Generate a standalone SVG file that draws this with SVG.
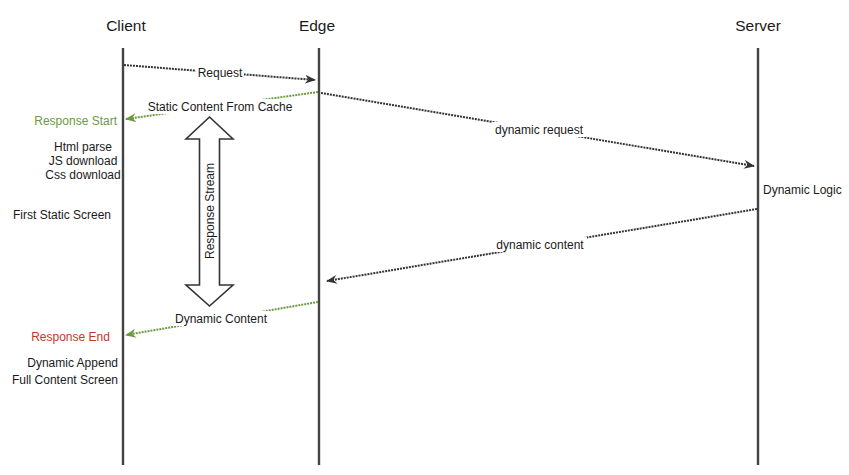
<svg xmlns="http://www.w3.org/2000/svg" width="849" height="475" viewBox="0 0 849 475">
<style>
text{font-family:"Liberation Sans",Arial,sans-serif;fill:#1a1a1a}
.t{font-size:15.5px}
.s{font-size:12px}
.g{fill:#6b9a3f}
.r{fill:#c0392b}
.life{stroke:#444;stroke-width:2.4;fill:none}
.msg{stroke:#333;stroke-width:2;stroke-dasharray:2 1;fill:none}
.gmsg{stroke:#6b9a3f;stroke-width:2;stroke-dasharray:2 1;fill:none}
.bg{fill:#fff}
</style>
<defs>
<marker id="ad" markerWidth="12" markerHeight="10" refX="10" refY="4.5" orient="auto" markerUnits="userSpaceOnUse">
<path d="M0,0 L11,4.5 L0,9 L3.5,4.5 Z" fill="#333"/>
</marker>
<marker id="ag" markerWidth="12" markerHeight="10" refX="10" refY="4.5" orient="auto" markerUnits="userSpaceOnUse">
<path d="M0,0 L11,4.5 L0,9 L3.5,4.5 Z" fill="#6b9a3f"/>
</marker>
</defs>
<rect width="849" height="475" fill="#fff"/>
<g id="client">
<text class="t" x="126" y="31" text-anchor="middle">Client</text>
<line class="life" x1="123" y1="48" x2="123" y2="465"/>
</g>
<g id="edge">
<text class="t" x="317" y="31" text-anchor="middle">Edge</text>
<line class="life" x1="319" y1="48" x2="319" y2="465"/>
</g>
<g id="server">
<text class="t" x="758" y="31" text-anchor="middle">Server</text>
<line class="life" x1="758" y1="48" x2="758" y2="465"/>
</g>
<g id="client-notes">
<text class="s g" x="117" y="125" text-anchor="end">Response Start</text>
<text class="s" x="83" y="151" text-anchor="middle">Html parse</text>
<text class="s" x="83" y="165" text-anchor="middle">JS download</text>
<text class="s" x="83" y="179" text-anchor="middle">Css download</text>
<text class="s" x="62" y="219" text-anchor="middle">First Static Screen</text>
<text class="s r" x="70.5" y="341" text-anchor="middle">Response End</text>
<text class="s" x="118" y="367" text-anchor="end">Dynamic Append</text>
<text class="s" x="118" y="384" text-anchor="end">Full Content Screen</text>
</g>
<g id="server-notes">
<text class="s" x="763" y="194">Dynamic Logic</text>
</g>
<g id="response-stream">
<polygon points="209.5,117 233,139 219.5,139 219.5,285 233,285 209.5,306 186,285 199.5,285 199.5,139 186,139" fill="#fff" stroke="#333" stroke-width="1.6" stroke-linejoin="miter"/>
<text class="s" transform="translate(210,211) rotate(-90)" text-anchor="middle" dominant-baseline="central">Response Stream</text>
</g>
<g id="connectors">
<line class="msg" x1="124" y1="65" x2="315" y2="80" marker-end="url(#ad)"/>
<rect class="bg" x="196" y="65" width="48" height="15"/>
<text class="s" x="220" y="77" text-anchor="middle">Request</text>

<line class="gmsg" x1="318" y1="92" x2="126" y2="119" marker-end="url(#ag)"/>
<rect class="bg" x="144" y="99" width="152" height="15"/>
<text class="s" x="220" y="111" text-anchor="middle">Static Content From Cache</text>

<line class="msg" x1="321" y1="93" x2="754" y2="166" marker-end="url(#ad)"/>
<rect class="bg" x="492" y="122" width="94" height="15"/>
<text class="s" x="539" y="134" text-anchor="middle">dynamic request</text>

<line class="msg" x1="757" y1="209" x2="327" y2="281" marker-end="url(#ad)"/>
<rect class="bg" x="493" y="237" width="94" height="15"/>
<text class="s" x="540" y="249" text-anchor="middle">dynamic content</text>

<line class="gmsg" x1="318" y1="302" x2="126" y2="335" marker-end="url(#ag)"/>
<rect class="bg" x="172" y="311" width="98" height="15"/>
<text class="s" x="221" y="323" text-anchor="middle">Dynamic Content</text>
</g>
</svg>
